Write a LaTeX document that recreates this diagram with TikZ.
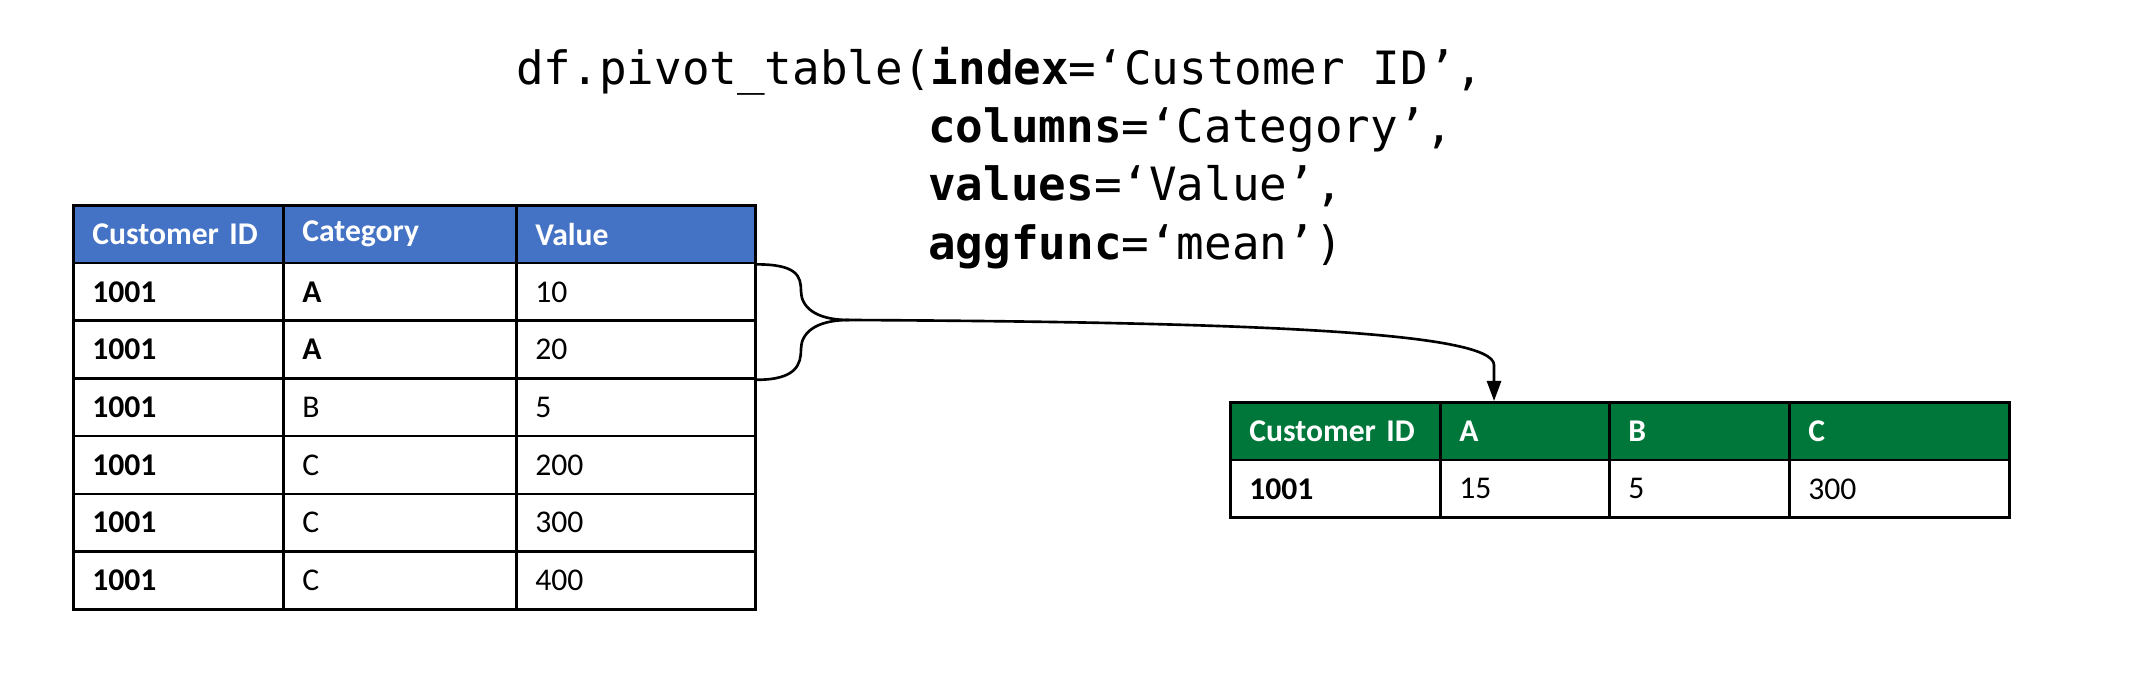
\documentclass[tikz,border=0pt]{standalone}
\usepackage{fontspec}
\setmainfont{Carlito}
\setmonofont{DejaVu Sans Mono}
\usetikzlibrary{positioning,arrows.meta}
\definecolor{hdblue}{HTML}{4472C4}
\definecolor{hdgreen}{HTML}{00773A}

\begin{document}
\begin{tikzpicture}[x=0.01cm, y=-0.01cm, line width=0.75pt,
    cell/.style={draw, anchor=north west, inner xsep=0.19cm, inner ysep=0pt,
        minimum height=0.577cm, align=left, font=\fontsize{9}{11}\selectfont},
    hcell/.style={cell, fill=#1, text=white, font=\fontsize{9}{11}\selectfont\bfseries},
    code/.style={anchor=base west, inner sep=0pt, font=\ttfamily\fontsize{13.05}{16}\selectfont}]
    \useasboundingbox (0,0) rectangle (2137,673);

    % the call
    \node[code] (ln1) at (515,85) {df.pivot\_table(\textbf{index}=‘Customer ID’,};
    \node[code] (ln2) at (927,143) {\textbf{columns}=‘Category’,};
    \node[code] (ln3) at (927,201) {\textbf{values}=‘Value’,};
    \node[code] (ln4) at (927,259) {\textbf{aggfunc}=‘mean’)};

    % long table
    \node[hcell=hdblue, text width=1.72cm] (L00) at (72,204) {Customer ID};
    \node[hcell=hdblue, text width=1.95cm] (L01) at (282,204) {Category};
    \node[hcell=hdblue, text width=2.01cm] (L02) at (515,204) {Value};
    \foreach \r/\c/\v in {1/\textbf{A}/10, 2/\textbf{A}/20, 3/B/5, 4/C/200, 5/C/300, 6/C/400} {
        \node[cell, text width=1.72cm] (L\r0) at (72,{204+57.7*\r}) {\textbf{1001}};
        \node[cell, text width=1.95cm] (L\r1) at (282,{204+57.7*\r}) {\c};
        \node[cell, text width=2.01cm] (L\r2) at (515,{204+57.7*\r}) {\v};
    }

    % pivoted table
    \foreach \n/\px/\w/\h/\v in {0/1229/1.72cm/Customer ID/\textbf{1001}, 1/1439/1.31cm/A/15,
            2/1608/1.42cm/B/5, 3/1788/1.82cm/C/300} {
        \node[hcell=hdgreen, text width=\w] (R0\n) at (\px,401) {\h};
        \node[cell, text width=\w] (R1\n) at (\px,458.7) {\v};
    }

    % brace and arrow
    \coordinate (tip) at (849,320);
    \draw (L02.south east) .. controls +(40,0) and +(0,-15) .. (801,291)
        .. controls +(0,15) and +(-35,0) .. (tip);
    \draw (L22.south east) .. controls +(40,0) and +(0,15) .. (801,349)
        .. controls +(0,-15) and +(-35,0) .. (tip);
    \draw[-{Triangle[length=0.2cm,width=0.14cm]}] (tip) .. controls (1250,322) and (1494,332) .. (1494,365)
        -- ([xshift=0.55cm]R01.north west);
\end{tikzpicture}
\end{document}
